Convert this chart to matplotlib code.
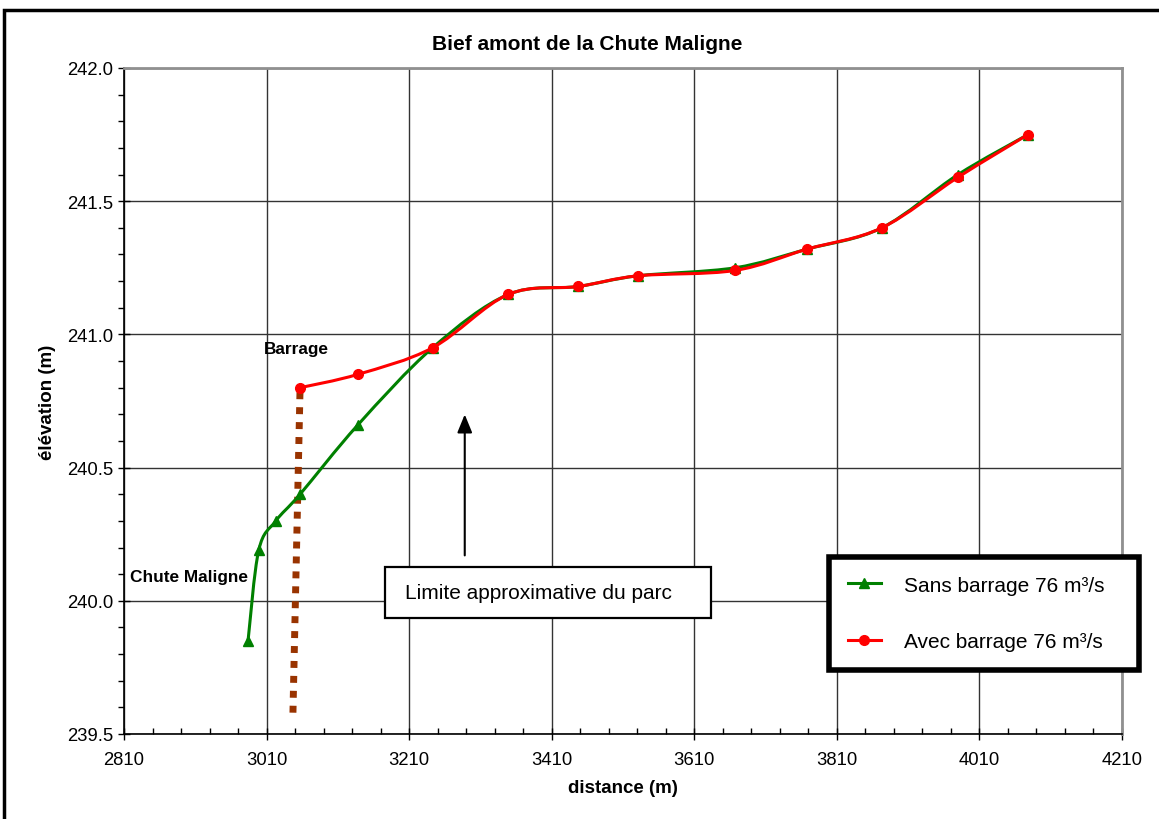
import numpy as np
import matplotlib
matplotlib.use("Agg")
import matplotlib.pyplot as plt
from matplotlib.path import Path
from matplotlib.patches import PathPatch, Rectangle
from matplotlib.lines import Line2D

plt.rcParams['font.family'] = ['Liberation Sans', 'DejaVu Sans']

# Sans barrage 76 m3/s
dist_sans = [2984, 2999, 3023, 3057, 3138, 3243, 3349, 3447, 3531, 3667, 3768, 3873, 3980, 4078]
elev_sans = [239.85, 240.19, 240.30, 240.40, 240.66, 240.95, 241.15, 241.18, 241.22, 241.25, 241.32, 241.40, 241.60, 241.75]

# Avec barrage 76 m3/s
dist_avec = [3057, 3138, 3243, 3349, 3447, 3531, 3667, 3768, 3873, 3980, 4078]
elev_avec = [240.80, 240.85, 240.95, 241.15, 241.18, 241.22, 241.24, 241.32, 241.40, 241.59, 241.75]

# limite approximative du parc (pointillé)
limite_x = [3047, 3057]
limite_y = [239.58, 240.80]

x_ticks = np.arange(2810, 4211, 200)
y_ticks = np.arange(239.5, 242.01, 0.5)


def smooth_path(x, y):
    # courbe lissée façon Excel (Bézier Catmull-Rom)
    p = np.column_stack([x, y]).astype(float)
    verts = [p[0]]
    codes = [Path.MOVETO]
    n = len(p)
    for i in range(n - 1):
        p0 = p[i - 1] if i > 0 else p[i]
        p3 = p[i + 2] if i + 2 < n else p[i + 1]
        c1 = p[i] + (p[i + 1] - p0) / 6
        c2 = p[i + 1] - (p3 - p[i]) / 6
        verts += [c1, c2, p[i + 1]]
        codes += [Path.CURVE4] * 3
    return Path(verts, codes)


fig = plt.figure(figsize=(11.59, 8.20), dpi=100)
ax = fig.add_axes([124 / 1159, 1 - 735 / 820, 998 / 1159, 666 / 820])

green = '#008000'
red = '#ff0000'

ax.add_patch(PathPatch(smooth_path(dist_sans, elev_sans), fill=False, color=green, lw=2.2, zorder=3))
ax.plot(dist_sans, elev_sans, ls='none', marker='^', ms=7, color=green, zorder=3)
ax.add_patch(PathPatch(smooth_path(dist_avec, elev_avec), fill=False, color=red, lw=2.2, zorder=4))
ax.plot(dist_avec, elev_avec, ls='none', marker='o', ms=7, color=red, zorder=4)

ax.plot(limite_x, limite_y, color='#993300', lw=5, dashes=(1, 1.15), solid_capstyle='butt',
        dash_capstyle='butt', zorder=2)

ax.set_xlim(2810, 4210)
ax.set_ylim(239.5, 242.0)
ax.set_xticks(x_ticks)
ax.set_yticks(y_ticks)
ax.set_yticklabels(['%.1f' % v for v in y_ticks])
ax.set_xticks(np.arange(2810, 4211, 40), minor=True)
ax.set_yticks(np.arange(239.5, 242.01, 0.1), minor=True)
ax.tick_params(axis='both', which='major', direction='inout', length=8, width=1, labelsize=13.3, color='black')
ax.tick_params(axis='x', which='minor', direction='in', length=4, width=1)
ax.tick_params(axis='y', which='minor', direction='out', length=4, width=1)
ax.tick_params(axis='x', which='major', pad=8)
ax.grid(True, which='major', color='#333333', lw=1)
ax.set_axisbelow(True)
for s in ['top', 'right']:
    ax.spines[s].set_color('#909090')
    ax.spines[s].set_linewidth(2)
for s in ['left', 'bottom']:
    ax.spines[s].set_color('black')
    ax.spines[s].set_linewidth(1.2)

fig.text(587 / 1159, 1 - 45 / 820, 'Bief amont de la Chute Maligne', fontsize=15, fontweight='bold',
         ha='center', va='center')
ax.set_xlabel('distance (m)', fontsize=13.5, fontweight='bold', labelpad=8)
ax.set_ylabel('élévation (m)', fontsize=13.5, fontweight='bold', labelpad=8)

ax.text(3006, 240.92, 'Barrage', fontsize=12.4, fontweight='bold', va='bottom', ha='left')
ax.text(2818, 240.09, 'Chute Maligne', fontsize=12.4, fontweight='bold', va='center', ha='left')

# flèche
ax.annotate('', xy=(3288, 240.71), xytext=(3288, 240.16),
            arrowprops=dict(arrowstyle='-|>,head_length=1.1,head_width=0.45', color='black', lw=1.5))

# boîte de texte
ax.add_patch(Rectangle((3176, 239.935), 457, 0.192, fill=True, facecolor='white',
                       edgecolor='black', lw=1.6, zorder=5))
ax.text(3204, 240.03, 'Limite approximative du parc', fontsize=15, va='center', ha='left', zorder=6)

# légende
handles = [Line2D([], [], color=green, lw=2.2, marker='^', ms=7),
           Line2D([], [], color=red, lw=2.2, marker='o', ms=7)]
leg = fig.legend(handles, ['Sans barrage 76 m³/s', 'Avec barrage 76 m³/s'],
                 loc='upper left',
                 bbox_to_anchor=(829 / 1159, 1 - 677 / 820, 310 / 1159, 119 / 820),
                 mode='expand',
                 fontsize=15, frameon=True, fancybox=False, edgecolor='black', framealpha=1,
                 handlelength=1.6, handletextpad=1.1, labelspacing=1.8,
                 borderpad=0.9, borderaxespad=0)
leg.get_frame().set_linewidth(4)

# cadre de la figure
fig.patches.append(Rectangle((4 / 1159, -0.05), 1.1, 1 - 11 / 820 + 0.05, transform=fig.transFigure,
                             fill=False, edgecolor='black', lw=2.5))

fig.savefig('out.png', dpi=100)
